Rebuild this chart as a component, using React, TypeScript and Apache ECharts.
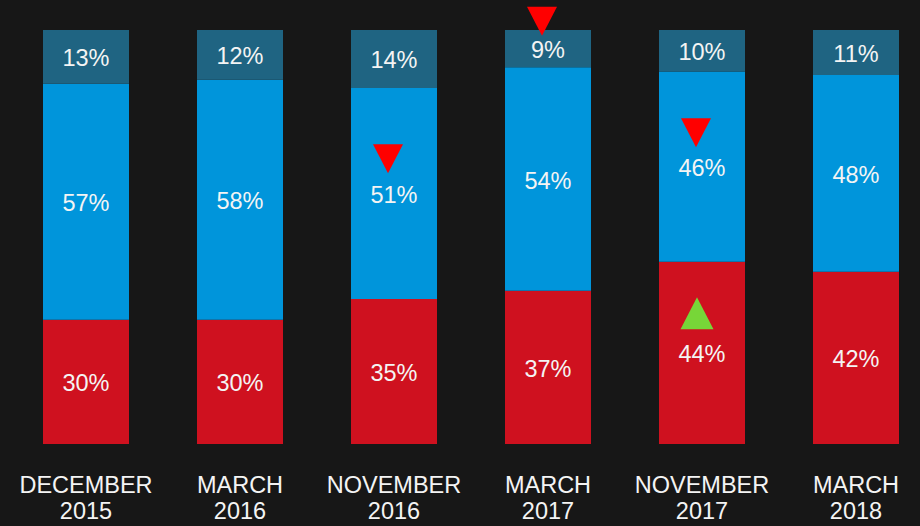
import React, { useEffect, useRef } from "react";
import * as echarts from "echarts";

const categories = [
  "DECEMBER\n2015",
  "MARCH\n2016",
  "NOVEMBER\n2016",
  "MARCH\n2017",
  "NOVEMBER\n2017",
  "MARCH\n2018",
];
const redValues = [30, 30, 35, 37, 44, 42];
const blueValues = [57, 58, 51, 54, 46, 48];
const tealValues = [13, 12, 14, 9, 10, 11];

// triangle annotations: [category index, y position in %]
const downMarkers: [number, number][] = [
  [2, 68.9],
  [3, 102.1],
  [4, 75.2],
];
const upMarkers: [number, number][] = [[4, 31.6]];

const FONT = "'Liberation Sans', Arial, Helvetica, sans-serif";

export default function App() {
  const ref = useRef<HTMLDivElement>(null);

  useEffect(() => {
    document.body.style.margin = "0";
    document.body.style.background = "#171717";
    if (!ref.current) return;
    const chart = echarts.init(ref.current, undefined, { renderer: "svg" });

    const totals = categories.map(
      (_, i) => redValues[i] + blueValues[i] + tealValues[i]
    );
    const norm = (arr: number[]) =>
      arr.map((v, i) => ({ value: (v / totals[i]) * 100, raw: v }));

    const label = {
      show: true,
      position: "inside" as const,
      color: "#f4f4f4",
      fontSize: 23.5,
      fontFamily: FONT,
      offset: [0, 1.5],
      formatter: (p: any) => `${p.data.raw}%`,
    };

    const barBase = {
      type: "bar" as const,
      stack: "total",
      barWidth: 86,
      label,
      emphasis: { disabled: true },
    };

    chart.setOption({
      animation: false,
      backgroundColor: "#171717",
      grid: { left: 9, right: 0, top: 30, height: 414 },
      xAxis: {
        type: "category",
        data: categories,
        axisLine: { show: false },
        axisTick: { show: false },
        axisLabel: {
          interval: 0,
          color: "#f4f4f4",
          fontSize: 23.5,
          lineHeight: 26,
          fontFamily: FONT,
          margin: 28,
        },
      },
      yAxis: {
        type: "value",
        min: 0,
        max: 100,
        show: false,
        splitLine: { show: false },
      },
      series: [
        { ...barBase, name: "red", data: norm(redValues), itemStyle: { color: "#cf111f" } },
        { ...barBase, name: "blue", data: norm(blueValues), itemStyle: { color: "#0095db" } },
        { ...barBase, name: "teal", data: norm(tealValues), itemStyle: { color: "#1f6482" } },
        {
          type: "scatter",
          data: downMarkers,
          symbol: "triangle",
          symbolRotate: 180,
          symbolSize: [30, 29],
          symbolOffset: [-6, 0],
          itemStyle: { color: "#ff0000", opacity: 1 },
          clip: false,
          silent: true,
          z: 10,
        },
        {
          type: "scatter",
          data: upMarkers,
          symbol: "triangle",
          symbolSize: [33, 32],
          symbolOffset: [-5, 0],
          itemStyle: { color: "#77d638", opacity: 1 },
          clip: false,
          silent: true,
          z: 10,
        },
      ],
    });

    return () => chart.dispose();
  }, []);

  return (
    <div style={{ width: 920, height: 526, overflow: "hidden", background: "#171717" }}>
      <div ref={ref} style={{ width: 933, height: 526 }} />
    </div>
  );
}
